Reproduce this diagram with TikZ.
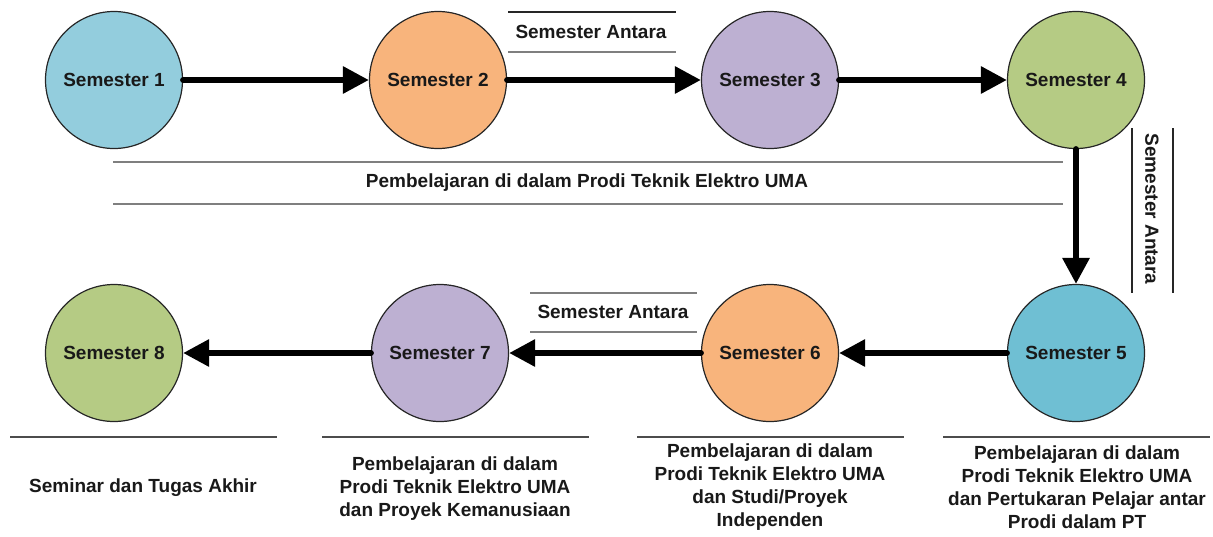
\documentclass[tikz,border=0pt]{standalone}
\usepackage{fontspec}
\setmainfont{Liberation Sans}
\usetikzlibrary{arrows.meta}
\usetikzlibrary{positioning}

\definecolor{semblue}{HTML}{93CDDD}
\definecolor{semcyan}{HTML}{6FBFD3}
\definecolor{semorange}{HTML}{F8B47C}
\definecolor{sempurple}{HTML}{BDB0D2}
\definecolor{semgreen}{HTML}{B5CB84}
\definecolor{rulegray}{HTML}{7F7F7F}

\tikzset{
  every semester/.style={circle, draw=black!85, line width=0.6pt, minimum size=68.5pt,
    inner sep=0pt, font=\bfseries\fontsize{9.5}{11.5}\selectfont, text=black!90},
  every note/.style={align=center, inner sep=0pt, font=\bfseries\fontsize{9.5}{11.5}\selectfont, text=black!90},
  flow/.style={line width=3pt, line cap=round, -{Triangle[length=13pt,width=13pt]}},
  rule/.style={draw=rulegray, line width=1pt}
}

\begin{document}
\begin{tikzpicture}[x=0.5pt, y=-0.5pt]

\useasboundingbox (0,0) rectangle (1213,536);

% Top row semesters
\foreach \m/\x/\c in {1/114/semblue,2/438/semorange,3/770/sempurple,4/1076/semgreen}
  \node [every semester, fill=\c] (sem-\m) at (\x,80) {Semester \m};

% Bottom row semesters
\foreach \m/\x/\c in {5/1076/semcyan,6/770/semorange,7/440/sempurple,8/114/semgreen}
  \node [every semester, fill=\c] (sem-\m) at (\x,353) {Semester \m};

% Semester to semester connections
\foreach \i/\j in {1/2,2/3,3/4,4/5,5/6,6/7,7/8}
  \draw [flow] (sem-\i) -- (sem-\j);

% Semester Antara labels
\node [every note] (antara-1) at (591,32) {Semester Antara};
\draw [black!85, line width=0.7pt] (508,12) -- (676,12);
\draw [rule] (508,52) -- (676,52);

\node [every note] (antara-2) at (613,312) {Semester Antara};
\draw [rule] (530,293) -- (697,293);
\draw [rule] (530,332) -- (697,332);

\node [every note, rotate=-90] (antara-3) at (1152,209) {Semester Antara};
\draw [black!85, line width=0.7pt] (1132,128) -- (1132,293);
\draw [black!85, line width=0.7pt] (1173,128) -- (1173,293);

% Learning inside the study programme
\node [every note] (prodi) at (587,183) {Pembelajaran di dalam Prodi Teknik Elektro UMA};
\draw [rule] (113,162) -- (1063,162);
\draw [rule] (113,204) -- (1063,204);

% Notes below the bottom row
\foreach \x in {10,322,637,943}
  \draw [rule, draw=black!70] (\x,437) -- (\x+267,437);

\node [every note] (note-8) at (143,488) {Seminar dan Tugas Akhir};
\node [every note] (note-7) at (455,489) {Pembelajaran di dalam\\Prodi Teknik Elektro UMA\\dan Proyek Kemanusiaan};
\node [every note] (note-6) at (770,487) {Pembelajaran di dalam\\Prodi Teknik Elektro UMA\\dan Studi/Proyek\\Independen};
\node [every note] (note-5) at (1077,487) {Pembelajaran di dalam\\Prodi Teknik Elektro UMA\\dan Pertukaran Pelajar antar\\Prodi dalam PT};

\end{tikzpicture}
\end{document}
